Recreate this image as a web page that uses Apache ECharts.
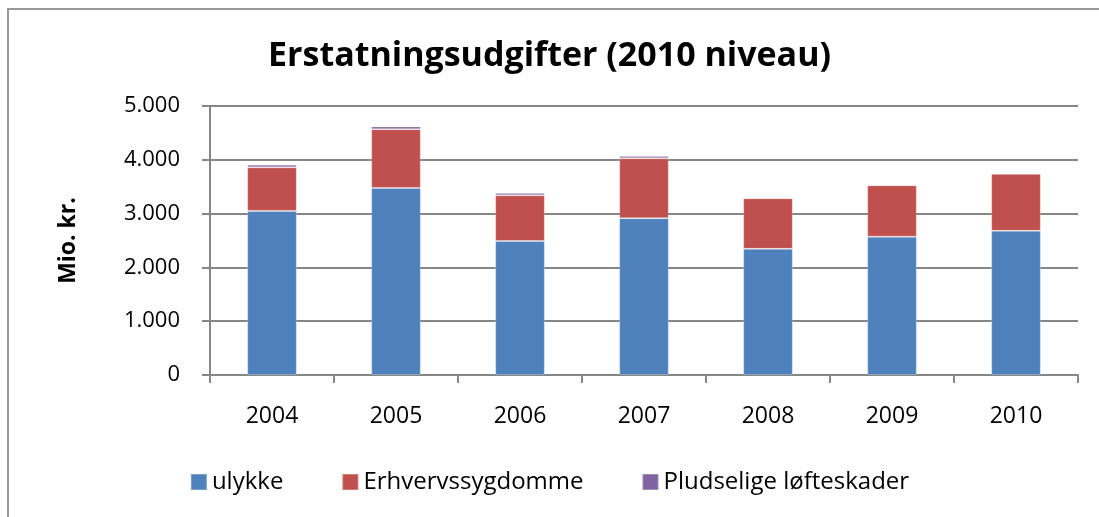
<!DOCTYPE html>
<html>
<head>
<meta charset="utf-8">
<script src="https://cdn.jsdelivr.net/npm/echarts@6/dist/echarts.min.js"></script>
<style>
  html, body { margin: 0; padding: 0; background: #fff; }
  #chart { width: 1099px; height: 517px; }
</style>
</head>
<body>
<div id="chart"></div>
<script>
// år langs x-aksen
var years = ['2004', '2005', '2006', '2007', '2008', '2009', '2010'];
// mio. kr. pr. kategori
var ulykke = [3050, 3475, 2490, 2915, 2345, 2570, 2680];
var erhvervssygdomme = [810, 1095, 850, 1115, 940, 955, 1060];
var loefteskader = [50, 50, 45, 40, 15, 5, 0];
var yTicks = [0, 1000, 2000, 3000, 4000, 5000];

var fontFam = '"Open Sans", "Liberation Sans", sans-serif';

function fmt(v) {
  // dansk tusindtalsseparator
  return String(v).replace(/\B(?=(\d{3})+(?!\d))/g, '.');
}

var chart = echarts.init(document.getElementById('chart'));

var barStyle = function (color) {
  return {
    color: color,
    borderColor: 'rgba(255,255,255,0.25)',
    borderWidth: 1
  };
};

var option = {
  animation: false,
  backgroundColor: '#fff',
  textStyle: { fontFamily: fontFam },
  title: {
    text: 'Erstatningsudgifter (2010 niveau)',
    left: 'center',
    top: 34,
    textStyle: { fontSize: 34, fontWeight: 'bold', color: '#000', fontFamily: fontFam }
  },
  graphic: [{
    type: 'rect',
    z: -1,
    shape: { x: 8, y: 9, width: 1200, height: 600 },
    style: { fill: 'none', stroke: '#999', lineWidth: 2 }
  }],
  legend: {
    bottom: 18,
    left: 'center',
    itemWidth: 16,
    itemHeight: 16,
    itemGap: 58,
    icon: 'rect',
    textStyle: { fontSize: 24, color: '#000', fontFamily: fontFam },
    data: ['ulykke', 'Erhvervssygdomme', 'Pludselige løfteskader']
  },
  grid: { left: 210, right: 21, top: 106, bottom: 142 },
  xAxis: {
    type: 'category',
    data: years,
    axisLine: { lineStyle: { color: '#868686', width: 2 } },
    axisTick: { show: true, length: 8, lineStyle: { color: '#868686', width: 2 } },
    axisLabel: { fontSize: 23, color: '#000', margin: 30 }
  },
  yAxis: {
    type: 'value',
    min: yTicks[0],
    max: yTicks[yTicks.length - 1],
    interval: 1000,
    name: 'Mio. kr.',
    nameLocation: 'middle',
    nameGap: 130,
    nameTextStyle: { fontSize: 23, fontWeight: 'bold', color: '#000' },
    axisLine: { show: true, lineStyle: { color: '#868686', width: 2 } },
    axisTick: { show: true, length: 8, lineStyle: { color: '#868686', width: 2 } },
    axisLabel: { fontSize: 22, color: '#000', margin: 30, formatter: fmt },
    splitLine: { lineStyle: { color: '#868686', width: 2 } }
  },
  series: [
    {
      name: 'ulykke', type: 'bar', stack: 'total', barWidth: '40%',
      itemStyle: barStyle('#4F81BD'), data: ulykke
    },
    {
      name: 'Erhvervssygdomme', type: 'bar', stack: 'total',
      itemStyle: barStyle('#C0504D'), data: erhvervssygdomme
    },
    {
      name: 'Pludselige løfteskader', type: 'bar', stack: 'total',
      itemStyle: barStyle('#8064A2'), data: loefteskader
    }
  ]
};

chart.setOption(option);
</script>
</body>
</html>
